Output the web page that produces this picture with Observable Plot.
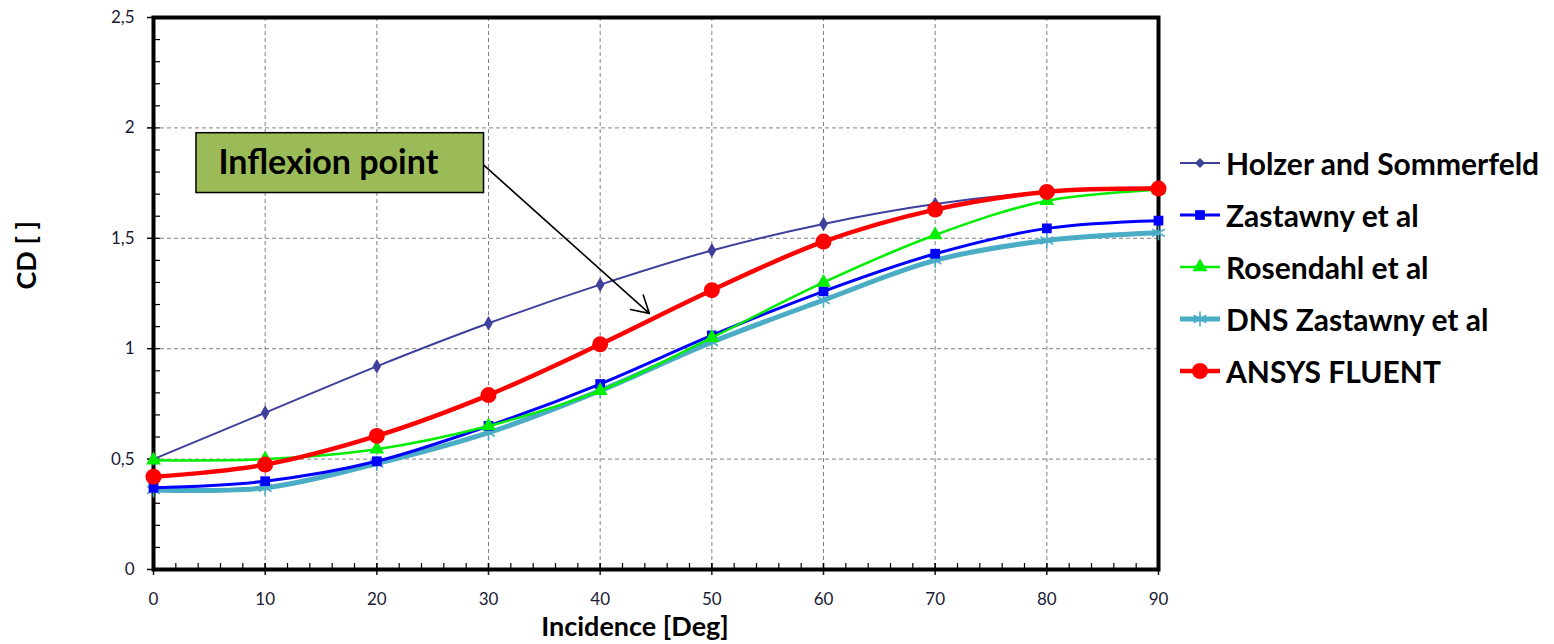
<!DOCTYPE html>
<html>
<head>
<meta charset="utf-8">
<script src="https://cdn.jsdelivr.net/npm/d3@7"></script>
<script src="https://cdn.jsdelivr.net/npm/@observablehq/plot@0.6"></script>
<style>
  html, body { margin: 0; padding: 0; background: #fff; }
  #wrap { position: relative; width: 1554px; height: 644px; font-family: Lato, "Open Sans", sans-serif; }
  #legend { position: absolute; left: 1178px; top: 137px; }
  .item { display: flex; align-items: center; height: 52px; font-weight: bold; font-size: 30px; color: #000; white-space: nowrap; }
  .item svg { margin-right: 4px; }
</style>
</head>
<body>
<div id="wrap"><div id="chart"></div><div id="legend"></div></div>
<script>
// ---- data ----
const incidence = [0, 10, 20, 30, 40, 50, 60, 70, 80, 90];
const holzer    = [0.50, 0.71, 0.92, 1.115, 1.29, 1.445, 1.565, 1.655, 1.71, 1.73];
const zastawny  = [0.37, 0.40, 0.49, 0.65, 0.84, 1.06, 1.26, 1.43, 1.545, 1.58];
const rosendahl = [0.495, 0.50, 0.545, 0.65, 0.81, 1.05, 1.30, 1.515, 1.67, 1.72];
const dns       = [0.36, 0.37, 0.48, 0.62, 0.81, 1.03, 1.22, 1.40, 1.49, 1.525];
const fluent    = [0.42, 0.475, 0.605, 0.79, 1.02, 1.265, 1.485, 1.63, 1.71, 1.725];

const seriesNames = ["Holzer and Sommerfeld", "Zastawny et al", "Rosendahl et al", "DNS Zastawny  et al", "ANSYS FLUENT"];
const yTicks = [0, 0.5, 1, 1.5, 2, 2.5];
const yMinor = d3.range(0, 2.5001, 0.1).map(v => +v.toFixed(1));
const xTicks = [0, 10, 20, 30, 40, 50, 60, 70, 80, 90];
const xMinor = d3.range(0, 90.001, 2);

// annotation (data coordinates)
const noteText = "Inflexion point";
const noteBox = {x1: 3.85, x2: 29.6, y1: 1.705, y2: 1.976};
const noteArrow = {x1: 29.6, y1: 1.83, x2: 44.4, y2: 1.16};

// ---- styles ----
const styles = [
  {name: seriesNames[0], vals: holzer,    color: "#3f3f9c", width: 2,   symbol: "diamond",  r: 4.5, fill: true},
  {name: seriesNames[1], vals: zastawny,  color: "#0000ff", width: 3,   symbol: "square",   r: 5.5, fill: true},
  {name: seriesNames[2], vals: rosendahl, color: "#00ee00", width: 2.5, symbol: "triangle", r: 5.5, fill: true},
  {name: seriesNames[3], vals: dns,       color: "#4bacc6", width: 5,   symbol: "asterisk", r: 7,   fill: false},
  {name: seriesNames[4], vals: fluent,    color: "#ff0000", width: 4.5, symbol: "circle",   r: 8,   fill: true}
];
const drawOrder = [3, 0, 1, 2, 4];

const rows = s => incidence.map((x, i) => ({x, y: s.vals[i]}));
const fmt = d => String(d).replace(".", ",");

const marks = [
  Plot.gridX(xTicks.slice(1, -1), {stroke: "#808080", strokeOpacity: 1, strokeDasharray: "4,3"}),
  Plot.gridY(yTicks.slice(1, -1), {stroke: "#808080", strokeOpacity: 1, strokeDasharray: "4,3"}),
  // y axis
  Plot.axisY(yTicks, {tickSize: 6, tickFormat: fmt, fontSize: 17, tickPadding: 13, label: null, stroke: "#000", strokeWidth: 1.5, color: "#1a1a33"}),
  Plot.axisY(yMinor, {tickSize: 7, dx: 7, tickFormat: () => "", label: null, strokeWidth: 1.2}),
  // x axis
  Plot.axisX(xTicks, {tickSize: 12, dy: -6, tickFormat: d => d, fontSize: 17, tickPadding: 17, label: null, strokeWidth: 1.5, color: "#1a1a33"}),
  Plot.axisX(xMinor, {tickSize: 6, dy: -6, tickFormat: () => "", label: null, strokeWidth: 1.2}),
  Plot.frame({stroke: "#000", strokeWidth: 4}),
  Plot.text(["CD [ ]"], {frameAnchor: "left", dx: -126, dy: -4, rotate: -90, fontSize: 27, fontWeight: "bold", fill: "#000"}),
  Plot.text(["Incidence [Deg]"], {frameAnchor: "bottom", dy: 66, dx: -21, fontSize: 27, fontWeight: "bold", fill: "#000"})
];

for (const k of drawOrder) {
  const s = styles[k];
  const d = rows(s);
  marks.push(Plot.line(d, {x: "x", y: "y", stroke: s.color, strokeWidth: s.width, curve: "catmull-rom"}));
  marks.push(Plot.dot(d, {x: "x", y: "y", symbol: () => s.symbol, r: s.r,
    fill: s.fill ? s.color : "none", stroke: s.color, strokeWidth: s.fill ? 0 : 1.6}));
}

marks.push(
  Plot.rect([noteBox], {x1: "x1", x2: "x2", y1: "y1", y2: "y2", fill: "#9bbb59", stroke: "#000", strokeWidth: 1.5}),
  Plot.text([noteText], {x: noteBox.x1, y: (noteBox.y1 + noteBox.y2) / 2, text: d => d, dx: 22, textAnchor: "start", fontSize: 34, fontWeight: "bold", fill: "#000"}),
  Plot.arrow([noteArrow], {x1: "x1", y1: "y1", x2: "x2", y2: "y2", stroke: "#000", strokeWidth: 1.6, headLength: 18, bend: 0})
);

const chart = Plot.plot({
  width: 1170,
  height: 644,
  marginLeft: 153,
  marginRight: 12,
  marginTop: 17,
  marginBottom: 75,
  style: {fontFamily: "Lato, 'Open Sans', sans-serif", background: "#fff", overflow: "visible"},
  x: {domain: [0, 90]},
  y: {domain: [0, 2.5]},
  marks
});
document.getElementById("chart").appendChild(chart);

// legend
const legend = document.getElementById("legend");
for (const s of styles) {
  const item = document.createElement("div");
  item.className = "item";
  const sw = d3.create("svg").attr("width", 44).attr("height", 20);
  sw.append("line").attr("x1", 2).attr("x2", 42).attr("y1", 10).attr("y2", 10)
    .attr("stroke", s.color).attr("stroke-width", s.width);
  const symMap = {diamond: d3.symbolDiamond2, square: d3.symbolSquare, triangle: d3.symbolTriangle, asterisk: d3.symbolAsterisk, circle: d3.symbolCircle};
  const sym = symMap[s.symbol];
  const area = Math.PI * s.r * s.r;
  sw.append("path").attr("transform", "translate(22,10)")
    .attr("d", d3.symbol(sym, area)())
    .attr("fill", s.fill ? s.color : "none").attr("stroke", s.color).attr("stroke-width", s.fill ? 0 : 1.6);
  item.appendChild(sw.node());
  const t = document.createElement("span");
  t.textContent = s.name;
  item.appendChild(t);
  legend.appendChild(item);
}
</script>
</body>
</html>
